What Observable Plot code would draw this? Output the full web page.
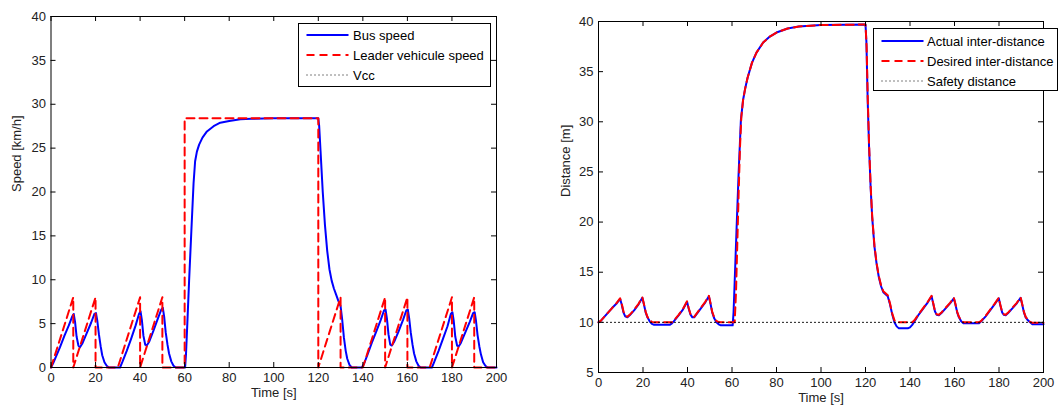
<!DOCTYPE html>
<html><head><meta charset="utf-8">
<script src="https://cdn.jsdelivr.net/npm/d3@7"></script>
<script src="https://cdn.jsdelivr.net/npm/@observablehq/plot@0.6"></script>
<style>
body{margin:0;background:#fff;font-family:"Liberation Sans",Arial,sans-serif;}
#wrap{position:relative;width:1060px;height:408px;overflow:hidden;background:#fff;}
.panel{position:absolute;top:0;}
.legend{position:absolute;background:#fff;border:1px solid #000;box-sizing:border-box;font-size:13px;color:#000;}
.row{position:absolute;left:0;height:20px;display:flex;align-items:center;white-space:nowrap;}
.row svg{display:block;}
</style></head><body><div id="wrap"></div>
<script>
// ---------- data ----------
const timeTicks = [0, 20, 40, 60, 80, 100, 120, 140, 160, 180, 200];
const speedTicks = [0, 5, 10, 15, 20, 25, 30, 35, 40];
const distTicks = [5, 10, 15, 20, 25, 30, 35, 40];

const speedLegend = ["Bus speed", "Leader vehicule speed", "Vcc"];
const distLegend = ["Actual inter-distance", "Desired inter-distance", "Safety distance"];

// [time s, speed km/h]
const busSpeed = [[0,0],[1,0.5],[2,1.1],[4,2.3],[6,3.6],[8,4.8],[9.5,5.8],[10.2,6.1],[10.8,5.2],[11.5,3.5],[12.3,2.5],[13,2.3],[14,2.7],[16,3.9],[18,5.1],[19.5,6.1],[20.2,6.2],[20.8,5.3],[21.5,3.8],[22.3,2.4],[23,1.4],[24,0.6],[25,0.2],[26,0],[31,0],[32,0.6],[34,1.9],[36,3.3],[38,4.8],[39.5,6.1],[40.2,6.4],[40.8,5.4],[41.5,3.6],[42.3,2.6],[43,2.5],[44,2.9],[46,4.2],[48,5.6],[49.5,6.6],[50.2,6.8],[50.8,5.8],[51.5,4.0],[52.3,2.6],[53,1.6],[54,0.7],[55,0.2],[56,0],[60.2,0],[60.6,1.5],[61.2,5],[62,9.9],[63,15.5],[64,21],[64.7,23.5],[65.5,24.6],[66.5,25.4],[68,26.2],[70,26.9],[73,27.5],[76,27.9],[80,28.1],[85,28.3],[90,28.35],[100,28.4],[120,28.4],[120.4,27.5],[121,24.7],[122,20],[123,16.2],[124,13.3],[125,11.2],[126,9.9],[127,9.0],[128,8.3],[129,7.6],[130,7.0],[130.7,5.5],[131.5,3.4],[132.3,1.9],[133,1.0],[134,0.3],[135,0],[139.5,0],[140.5,0.4],[142,1.4],[144,2.8],[146,4.1],[148,5.4],[149.5,6.5],[150.2,6.6],[150.8,5.6],[151.5,3.8],[152.3,2.6],[153,2.5],[154,2.9],[156,4.1],[158,5.4],[159.5,6.5],[160.2,6.6],[160.8,5.6],[161.5,4.0],[162.3,2.6],[163,1.6],[164,0.7],[165,0.2],[166,0],[171,0],[172,0.6],[174,1.9],[176,3.3],[178,4.7],[179.5,6.1],[180.2,6.3],[180.8,5.3],[181.5,3.5],[182.3,2.5],[183,2.4],[184,2.8],[186,4.0],[188,5.2],[189.5,6.2],[190.2,6.3],[190.8,5.3],[191.5,3.7],[192.3,2.4],[193,1.5],[194,0.6],[195,0.2],[196,0],[200,0]];

const leaderSpeed = [[0,0],[10,8],[10,0],[20,8],[20,0],[30,0],[40,8],[40,0],[50,8],[50,0],[60,0],[60,28.4],[120,28.4],[120,0],[130,8],[130,0],[140,0],[150,8],[150,0],[160,8],[160,0],[170,0],[180,8],[180,0],[190,8],[190,0],[200,0]];

// [time s, distance m]
const actualDist = [[0,10],[1,10.15],[2,10.4],[4,10.9],[6,11.4],[8,11.85],[9.7,12.35],[10.4,11.8],[11.2,11.0],[12,10.6],[13,10.5],[14,10.7],[16,11.2],[18,11.8],[19.7,12.45],[20.4,11.8],[21.2,11.0],[22,10.5],[23,10.1],[24,9.85],[25,9.75],[32,9.75],[33,9.9],[34,10.15],[36,10.7],[38,11.3],[39.8,12.05],[40.5,11.4],[41.3,10.8],[42.2,10.5],[43,10.5],[44,10.8],[46,11.4],[48,12.0],[49.6,12.6],[50.3,11.9],[51.1,11.0],[52,10.4],[53,10.0],[54,9.8],[55,9.7],[60.3,9.7],[60.7,11],[61.2,14],[62,19],[63,25],[64,30.2],[65,32.2],[66,33.4],[67,34.4],[69,35.9],[71,36.9],[74,37.9],[77,38.5],[80,38.9],[85,39.3],[90,39.5],[100,39.65],[120,39.7],[120.4,38],[121,32],[121.6,27.5],[122.3,23.5],[123,20.5],[124,17.6],[125,15.8],[126,14.5],[127,13.6],[128,13.0],[129,12.8],[130,12.6],[131,11.8],[132,10.8],[133,10.0],[134,9.6],[135,9.4],[139,9.4],[140,9.5],[141,9.75],[142,10.1],[144,10.8],[146,11.4],[148,12.0],[149.7,12.6],[150.4,11.9],[151.2,11.1],[152,10.75],[153,10.7],[154,10.9],[156,11.4],[158,11.9],[159.7,12.4],[160.4,11.8],[161.2,11.0],[162,10.5],[163,10.1],[164,9.9],[171,9.9],[172,10.1],[174,10.6],[176,11.2],[178,11.8],[179.9,12.4],[180.6,11.7],[181.4,11.0],[182.2,10.75],[183,10.7],[184,10.9],[186,11.4],[188,11.9],[189.7,12.45],[190.4,11.8],[191.2,11.0],[192,10.5],[193,10.2],[194,10.0],[195,9.8],[200,9.8]];

const desiredDist = [[0,10],[1,10.15],[2,10.4],[4,10.9],[6,11.4],[8,11.9],[9.7,12.4],[10.4,11.9],[11.2,11.1],[12,10.7],[13,10.55],[14,10.75],[16,11.25],[18,11.85],[19.7,12.5],[20.4,11.85],[21.2,11.05],[22,10.55],[23,10.2],[24,10.05],[25,10],[33,10],[34,10.2],[36,10.75],[38,11.35],[39.8,12.1],[40.5,11.45],[41.3,10.85],[42.2,10.55],[43,10.55],[44,10.85],[46,11.45],[48,12.05],[49.6,12.65],[50.3,11.95],[51.1,11.05],[52,10.5],[53,10.15],[54,10.03],[55,10],[61.2,10],[61.8,13],[62.4,18],[63,23],[63.6,27.5],[64.2,30.5],[65,32.2],[66,33.4],[67,34.4],[69,35.9],[71,36.9],[74,37.9],[77,38.5],[80,38.9],[85,39.3],[90,39.5],[100,39.65],[120,39.7],[120.5,37.5],[121,32.5],[121.6,27.8],[122.3,23.7],[123,20.6],[124,17.7],[125,15.9],[126,14.6],[127,13.7],[128,13.1],[129,12.9],[130,12.7],[131,11.9],[132,10.9],[133,10.2],[134,10.0],[141,10],[142,10.2],[144,10.85],[146,11.45],[148,12.05],[149.7,12.65],[150.4,11.95],[151.2,11.15],[152,10.8],[153,10.75],[154,10.95],[156,11.45],[158,11.95],[159.7,12.45],[160.4,11.85],[161.2,11.05],[162,10.55],[163,10.15],[164,10.02],[171,10],[172,10.15],[174,10.65],[176,11.25],[178,11.85],[179.9,12.45],[180.6,11.75],[181.4,11.05],[182.2,10.8],[183,10.75],[184,10.95],[186,11.45],[188,11.95],[189.7,12.5],[190.4,11.85],[191.2,11.05],[192,10.55],[193,10.25],[194,10.05],[195,9.95],[200,9.95]];

const safetyDist = [[0,10],[200,10]];

// ---------- drawing ----------
const FONT = '"Liberation Sans", Arial, Helvetica, sans-serif';
const BLUE = "#0000ff", RED = "#ff0000";

function panel(cfg) {
  const {width, height, mt, mb, ml, mr, yDomain, yTicks, xLabel, yLabel, yLabelDx, lines} = cfg;
  const iw = width - ml - mr, ih = height - mt - mb, tk = 5;
  return Plot.plot({
    width, height, marginTop: mt, marginBottom: mb, marginLeft: ml, marginRight: mr,
    style: {fontFamily: FONT, fontSize: "13px", background: "transparent", color: "#000"},
    x: {domain: [0, 200]},
    y: {domain: yDomain},
    marks: [
      ...lines,
      Plot.tickX(timeTicks, {x: d => d, insetTop: ih - tk, stroke: "#000"}),
      Plot.tickX(timeTicks, {x: d => d, insetBottom: ih - tk, stroke: "#000"}),
      Plot.tickY(yTicks, {y: d => d, insetRight: iw - tk, stroke: "#000"}),
      Plot.tickY(yTicks, {y: d => d, insetLeft: iw - tk, stroke: "#000"}),
      Plot.frame({stroke: "#000", strokeWidth: 1}),
      Plot.axisX({ticks: timeTicks, tickSize: 0, tickPadding: 5, tickFormat: d => String(d), fill: "#222", label: null, fontSize: 13}),
      Plot.axisY({ticks: yTicks, tickSize: 0, tickPadding: 5, tickFormat: d => String(d), fill: "#222", label: null, fontSize: 13}),
      Plot.text([xLabel], {frameAnchor: "bottom", dy: 29, text: d => d, fill: "#222", fontSize: 13}),
      Plot.text([yLabel], {frameAnchor: "left", dx: yLabelDx, rotate: -90, text: d => d, fill: "#222", fontSize: 13})
    ]
  });
}

const speedLines = [
  Plot.line(busSpeed, {x: d => d[0], y: d => d[1], stroke: BLUE, strokeWidth: 2}),
  Plot.line(leaderSpeed, {x: d => d[0], y: d => d[1], stroke: RED, strokeWidth: 2, strokeDasharray: "8,5"})
];
const distLines = [
  Plot.line(actualDist, {x: d => d[0], y: d => d[1], stroke: BLUE, strokeWidth: 2}),
  Plot.line(desiredDist, {x: d => d[0], y: d => d[1], stroke: RED, strokeWidth: 2, strokeDasharray: "8,5"}),
  Plot.line(safetyDist, {x: d => d[0], y: d => d[1], stroke: "#000", strokeWidth: 1, strokeDasharray: "1,3"})
];

const wrap = document.getElementById("wrap");

const left = panel({width: 530, height: 408, mt: 16, mb: 41, ml: 50.5, mr: 34, yDomain: [0, 40], yTicks: speedTicks,
  xLabel: "Time [s]", yLabel: "Speed [km/h]", yLabelDx: -34, lines: speedLines});
left.classList.add("panel"); left.style.left = "0px";
wrap.appendChild(left);

const right = panel({width: 530, height: 408, mt: 21, mb: 36, ml: 68, mr: 17, yDomain: [5, 40], yTicks: distTicks,
  xLabel: "Time [s]", yLabel: "Distance [m]", yLabelDx: -33, lines: distLines});
right.classList.add("panel"); right.style.left = "530px";
wrap.appendChild(right);

// legends
const styles = [
  {stroke: BLUE, width: 2, dash: null},
  {stroke: RED, width: 2, dash: "8,5"},
  {stroke: "#000", width: 1, dash: "1,3"}
];
function legend(labels, box, rowYs, lineX0, lineX1, textX) {
  const div = document.createElement("div");
  div.className = "legend";
  Object.assign(div.style, {left: box.l + "px", top: box.t + "px", width: (box.r - box.l) + "px", height: (box.b - box.t) + "px"});
  labels.forEach((lab, i) => {
    const row = document.createElement("div");
    row.className = "row";
    row.style.top = (rowYs[i] - box.t - 1 - 10) + "px";
    const ns = "http://www.w3.org/2000/svg";
    const svg = document.createElementNS(ns, "svg");
    const w = textX - box.l - 1;
    svg.setAttribute("width", w); svg.setAttribute("height", 20);
    const ln = document.createElementNS(ns, "line");
    ln.setAttribute("x1", lineX0 - box.l - 1); ln.setAttribute("x2", lineX1 - box.l - 1);
    ln.setAttribute("y1", 10); ln.setAttribute("y2", 10);
    ln.setAttribute("stroke", styles[i].stroke); ln.setAttribute("stroke-width", styles[i].width);
    if (styles[i].dash) ln.setAttribute("stroke-dasharray", styles[i].dash);
    svg.appendChild(ln);
    row.appendChild(svg);
    const sp = document.createElement("span");
    sp.textContent = lab;
    row.appendChild(sp);
    div.appendChild(row);
  });
  wrap.appendChild(div);
}
legend(speedLegend, {l: 298, t: 23, r: 491, b: 87}, [35, 55, 75], 306.5, 348.5, 353);
legend(distLegend, {l: 873, t: 28, r: 1058, b: 91}, [41, 61, 81], 881.5, 923.5, 927);
</script></body></html>
